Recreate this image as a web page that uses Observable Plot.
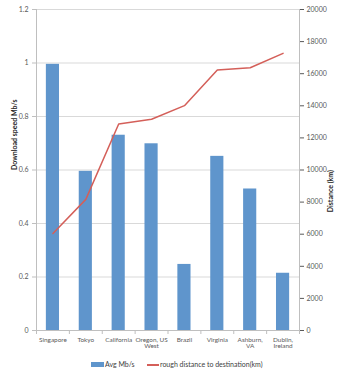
<!DOCTYPE html>
<html><head><meta charset="utf-8">
<script src="https://cdn.jsdelivr.net/npm/d3@7"></script>
<script src="https://cdn.jsdelivr.net/npm/@observablehq/plot@0.6"></script>
<style>
body{margin:0;background:#fff;font-family:Lato,"Open Sans",sans-serif;}
#legend{position:relative;height:21px;font-size:7px;color:#404040;}
.sw{position:absolute;}
</style>
</head><body>
<div id="chart"></div>
<div id="legend">
  <div class="sw" style="left:91px;top:7px;width:13px;height:5px;background:#5f95cc"></div>
  <div class="sw" style="left:105px;top:5px;">Avg Mb/s</div>
  <div class="sw" style="left:147px;top:9px;width:12px;height:2px;background:#d45f59"></div>
  <div class="sw" style="left:160px;top:5px;">rough distance to destination(km)</div>
</div>
<script>
const categories = ["Singapore","Tokyo","California","Oregon, US\nWest","Brazil","Virginia","Ashburn,\nVA","Dublin,\nIreland"];
const speeds = [0.995, 0.595, 0.73, 0.698, 0.247, 0.651, 0.529, 0.214];
const distances = [6050, 8170, 12870, 13160, 14010, 16230, 16370, 17270];
const leftTicks = [0, 0.2, 0.4, 0.6, 0.8, 1, 1.2];
const rightTicks = [0, 2000, 4000, 6000, 8000, 10000, 12000, 14000, 16000, 18000, 20000];

const k = 1.2 / 20000;
const data = categories.map((c, i) => ({i, c, speed: speeds[i], dist: distances[i]}));
const bounds = d3.range(categories.length + 1).map(i => i - 0.5);

const plot = Plot.plot({
  width: 343,
  height: 355,
  marginTop: 9,
  marginBottom: 25,
  marginLeft: 36,
  marginRight: 44,
  style: {fontFamily: "Lato, 'Open Sans', sans-serif", fontSize: "7px", color: "#595959", background: "#fff"},
  x: {domain: [-0.5, categories.length - 0.5]},
  y: {domain: [0, 1.2]},
  marks: [
    Plot.ruleY(leftTicks.slice(1), {stroke: "#d9d9d9", strokeWidth: 1}),
    Plot.rectY(data, {x1: d => d.i - 0.2, x2: d => d.i + 0.2, y: "speed", fill: "#5f95cc"}),
    Plot.ruleX([-0.5, categories.length - 0.5], {stroke: "#bfbfbf"}),
    Plot.ruleY([0], {stroke: "#bfbfbf"}),
    Plot.line(data, {x: "i", y: d => d.dist * k, stroke: "#d45f59", strokeWidth: 1.5}),
    Plot.axisY({ticks: leftTicks, tickSize: 4, tickPadding: 4, stroke: "#bfbfbf", tickFormat: d => String(d), label: null}),
    Plot.axisY({anchor: "right", ticks: rightTicks.map(v => v * k), tickSize: 4, tickPadding: 3,
      tickFormat: v => String(Math.round(v / k)), label: null}),
    Plot.axisX({ticks: bounds, tickSize: 4, tickFormat: () => "", stroke: "#bfbfbf", label: null}),
    Plot.axisX({ticks: d3.range(categories.length), tickSize: 0, tickPadding: 7, fontSize: 6.4,
      tickFormat: i => categories[i], label: null}),
    Plot.text(["Download speed Mb/s"], {frameAnchor: "left", dx: -22, rotate: -90, fontWeight: "bold", fill: "#262626", fontSize: 7}),
    Plot.text(["Distance (km)"], {frameAnchor: "right", dx: 31, rotate: -90, fontWeight: "bold", fill: "#262626", fontSize: 7})
  ]
});
document.getElementById("chart").appendChild(plot);
</script>
</body></html>
